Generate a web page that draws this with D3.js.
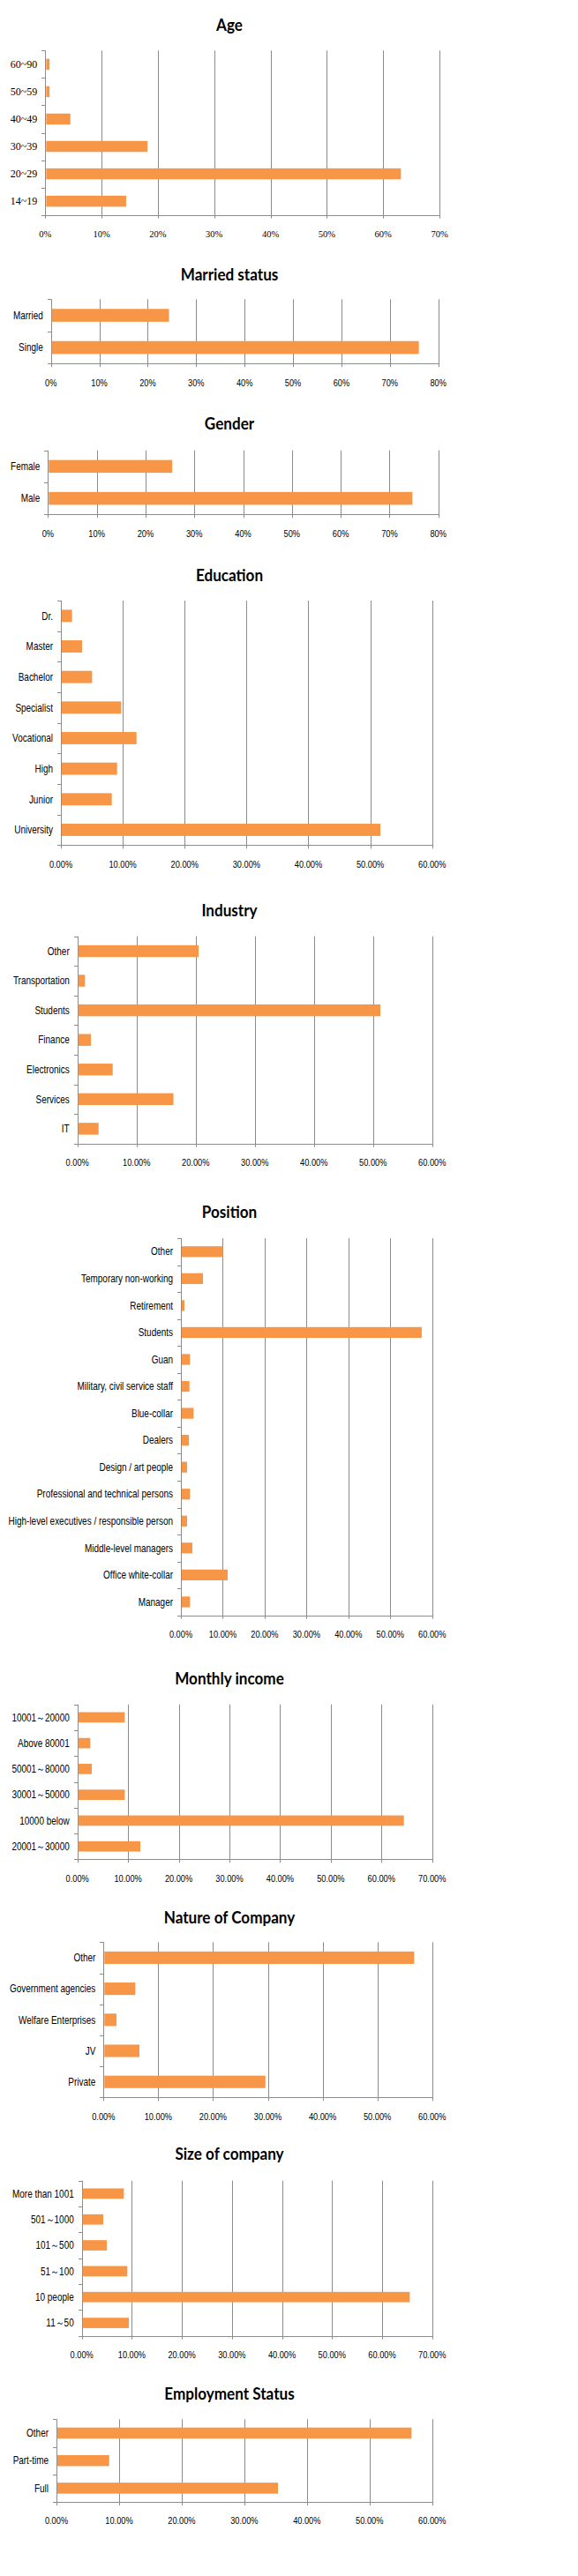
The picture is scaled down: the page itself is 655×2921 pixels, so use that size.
<!DOCTYPE html>
<html lang="en">
  <head>
    <meta charset="UTF-8" />
    <title>Survey profile</title>
    <style>
      body { margin: 0; background: #fff; }
      svg { display: block; }
    </style>
  </head>
  <body>
    <div id="charts">
      <svg width="655" height="2921"></svg>
    </div>
    <script src="https://d3js.org/d3.v7.min.js"></script>
    <script>
      // data, top-to-bottom order as in the picture (percent)
      var ageCats = ["60~90", "50~59", "40~49", "30~39", "20~29", "14~19"];
      var ageVals = [0.6, 0.6, 4.3, 18.0, 63.0, 14.2];

      var marriedCats = ["Married", "Single"];
      var marriedVals = [24.2, 75.8];

      var genderCats = ["Female", "Male"];
      var genderVals = [25.3, 74.5];

      var eduCats = ["Dr.", "Master", "Bachelor", "Specialist", "Vocational", "High", "Junior", "University"];
      var eduVals = [1.66, 3.28, 4.9, 9.6, 12.08, 8.94, 8.08, 51.5];

      var industryCats = ["Other", "Transportation", "Students", "Finance", "Electronics", "Services", "IT"];
      var industryVals = [20.35, 1.14, 51.1, 2.14, 5.82, 16.1, 3.43];

      var positionCats = [
        "Other", "Temporary non-working", "Retirement", "Students", "Guan",
        "Military, civil service staff", "Blue-collar", "Dealers", "Design / art people",
        "Professional and technical persons", "High-level executives / responsible person",
        "Middle-level managers", "Office white-collar", "Manager"
      ];
      var positionVals = [9.84, 5.06, 0.63, 57.3, 1.97, 1.83, 2.81, 1.69, 1.26, 1.97, 1.26, 2.53, 10.96, 1.97];

      var incomeCats = ["10001～20000", "Above 80001", "50001～80000", "30001～50000", "10000 below", "20001～30000"];
      var incomeVals = [9.17, 2.38, 2.67, 9.17, 64.25, 12.25];

      var natureCats = ["Other", "Government agencies", "Welfare Enterprises", "JV", "Private"];
      var natureVals = [56.56, 5.64, 2.2, 6.39, 29.4];

      var sizeCats = ["More than 1001", "501～1000", "101～500", "51～100", "10 people", "11～50"];
      var sizeVals = [8.23, 4.11, 4.82, 8.93, 65.36, 9.23];

      var employCats = ["Other", "Part-time", "Full"];
      var employVals = [56.57, 8.27, 35.24];

      // x tick values (percent)
      var ticks70 = [0, 10, 20, 30, 40, 50, 60, 70];
      var ticks80 = [0, 10, 20, 30, 40, 50, 60, 70, 80];
      var ticks60 = [0, 10, 20, 30, 40, 50, 60];

      var charts = [
        { title: "Age", cats: ageCats, vals: ageVals, ticks: ticks70, dec: 0, serif: true,
          titleY: 28, top: 57.3, bottom: 243.7, left: 51.3, right: 498 },
        { title: "Married status", cats: marriedCats, vals: marriedVals, ticks: ticks80, dec: 0,
          titleY: 311, top: 339.3, bottom: 412.3, left: 57.7, right: 496.7 },
        { title: "Gender", cats: genderCats, vals: genderVals, ticks: ticks80, dec: 0,
          titleY: 480, top: 510.7, bottom: 583.3, left: 54.3, right: 496.7 },
        { title: "Education", cats: eduCats, vals: eduVals, ticks: ticks60, dec: 2,
          titleY: 652.7, top: 681, bottom: 958.3, left: 69, right: 489.7 },
        { title: "Industry", cats: industryCats, vals: industryVals, ticks: ticks60, dec: 2,
          titleY: 1032.3, top: 1061.7, bottom: 1296.7, left: 87.7, right: 489.7 },
        { title: "Position", cats: positionCats, vals: positionVals, ticks: ticks60, dec: 2,
          titleY: 1374, top: 1404, bottom: 1831.7, left: 205, right: 489.7 },
        { title: "Monthly income", cats: incomeCats, vals: incomeVals, ticks: ticks70, dec: 2,
          titleY: 1903.3, top: 1932.7, bottom: 2108.3, left: 87.7, right: 489.7 },
        { title: "Nature of Company", cats: natureCats, vals: natureVals, ticks: ticks60, dec: 2,
          titleY: 2174, top: 2202.3, bottom: 2378.3, left: 117.3, right: 489.7 },
        { title: "Size of company", cats: sizeCats, vals: sizeVals, ticks: ticks70, dec: 2,
          titleY: 2442.3, top: 2472.7, bottom: 2648.7, left: 92.7, right: 489.7 },
        { title: "Employment Status", cats: employCats, vals: employVals, ticks: ticks60, dec: 2,
          titleY: 2714, top: 2743.3, bottom: 2837, left: 64, right: 489.7 }
      ];

      var svg = d3.select("#charts>svg");
      svg.append("rect").attr("width", 655).attr("height", 2921).attr("fill", "#fff");

      // no narrow font installed, so squeeze Liberation Sans sideways instead
      var sans = "'Liberation Sans', Arial, sans-serif";
      var serif = "'Liberation Serif', 'Times New Roman', serif";
      var gridColor = "#8c8c8c";
      var barColor = "#f79646";

      charts.forEach(function (c) {
        var g = svg.append("g");
        var font = c.serif ? serif : sans;
        var labSq = c.serif ? 1 : 0.83;
        var tickSq = c.serif ? 1 : 0.88;

        var x = d3.scaleLinear()
          .domain([0, c.ticks[c.ticks.length - 1]])
          .range([c.left, c.right]);

        var y = d3.scaleBand()
          .domain(c.cats)
          .range([c.top, c.bottom])
          .paddingInner(0.6)
          .paddingOuter(0.3);

        g.append("text")
          .attr("transform", "translate(260," + c.titleY + ") scale(0.9,1)")
          .attr("dy", "0.35em")
          .attr("text-anchor", "middle")
          .attr("font-family", "Lato, 'Open Sans', sans-serif")
          .attr("font-weight", "bold")
          .attr("font-size", 19)
          .attr("fill", "#000")
          .text(c.title);

        // vertical gridlines with little ticks below the axis
        g.selectAll(".grid")
          .data(c.ticks)
          .enter()
          .append("line")
          .attr("x1", function (d) { return Math.round(x(d)) + 0.5; })
          .attr("x2", function (d) { return Math.round(x(d)) + 0.5; })
          .attr("y1", c.top)
          .attr("y2", c.bottom + 4)
          .attr("stroke", gridColor)
          .attr("stroke-width", 1);

        // bottom axis line
        g.append("line")
          .attr("x1", Math.round(c.left) + 0.5)
          .attr("x2", Math.round(c.right) + 0.5)
          .attr("y1", Math.round(c.bottom) + 0.5)
          .attr("y2", Math.round(c.bottom) + 0.5)
          .attr("stroke", gridColor);

        // y axis ticks at band boundaries
        var bounds = d3.range(c.cats.length + 1).map(function (i) {
          return c.top + i * y.step();
        });
        g.selectAll(".ytick")
          .data(bounds)
          .enter()
          .append("line")
          .attr("x1", Math.round(c.left) - 4)
          .attr("x2", Math.round(c.left) + 0.5)
          .attr("y1", function (d) { return Math.round(d) + 0.5; })
          .attr("y2", function (d) { return Math.round(d) + 0.5; })
          .attr("stroke", gridColor);

        g.selectAll(".bar")
          .data(c.vals)
          .enter()
          .append("rect")
          .attr("x", x(0) + 1)
          .attr("y", function (d, i) { return y(c.cats[i]); })
          .attr("width", function (d) { return x(d) - x(0); })
          .attr("height", y.bandwidth())
          .attr("fill", barColor);

        g.selectAll(".ylab")
          .data(c.cats)
          .enter()
          .append("text")
          .attr("transform", function (d) {
            return "translate(" + (c.left - 9) + "," + (y(d) + y.bandwidth() / 2) + ") scale(" + labSq + ",1)";
          })
          .attr("dy", "0.35em")
          .attr("text-anchor", "end")
          .attr("font-family", font)
          .attr("font-size", 12)
          .attr("fill", "#000")
          .text(function (d) { return d; });

        g.selectAll(".xlab")
          .data(c.ticks)
          .enter()
          .append("text")
          .attr("transform", function (d) {
            return "translate(" + x(d) + "," + (c.bottom + 21.7) + ") scale(" + tickSq + ",1)";
          })
          .attr("dy", "0.35em")
          .attr("text-anchor", "middle")
          .attr("font-family", font)
          .attr("font-size", 10.5)
          .attr("fill", "#000")
          .text(function (d) { return d.toFixed(c.dec) + "%"; });
      });
    </script>
  </body>
</html>
